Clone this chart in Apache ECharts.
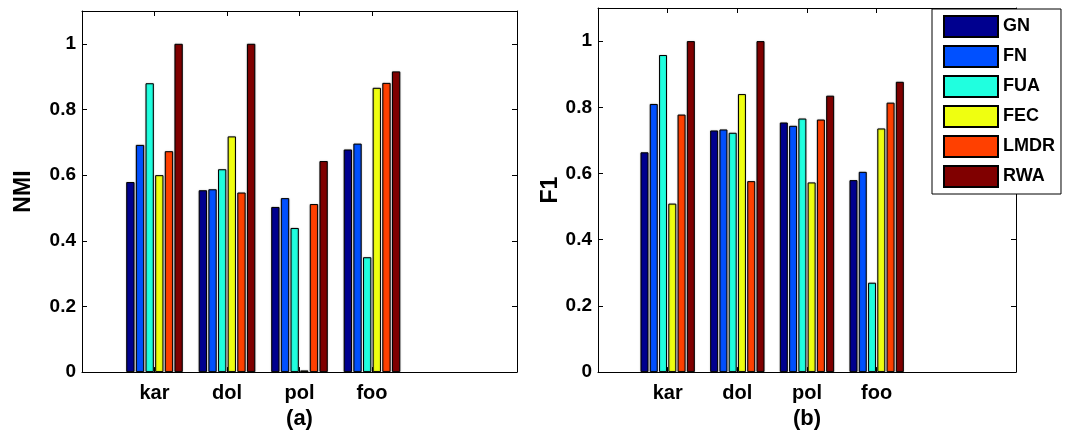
<!DOCTYPE html>
<html lang="en">
<head>
    <meta charset="UTF-8">
    <title>NMI / F1</title>
    <script src="https://cdn.jsdelivr.net/npm/echarts@6/dist/echarts.min.js"></script>
    <style>
        html,body{
            margin: 0;
            padding: 0;
            background: #fff;
        }
    </style>
</head>
<body>
<div id="main" style="width: 1075px;height: 435px"></div>
<script>
    // 数据
    var categories = ['kar', 'dol', 'pol', 'foo'];
    var methods = ['GN', 'FN', 'FUA', 'FEC', 'LMDR', 'RWA'];
    var colors = ['#00008f', '#0050ff', '#20ffdf', '#efff10', '#ff4000', '#800000'];
    var yTicks = [0, 0.2, 0.4, 0.6, 0.8, 1];

    // NMI, one array per method (kar, dol, pol, foo)
    var nmiGN   = [0.579, 0.554, 0.503, 0.678];
    var nmiFN   = [0.692, 0.557, 0.530, 0.696];
    var nmiFUA  = [0.880, 0.618, 0.439, 0.350];
    var nmiFEC  = [0.600, 0.718, 0.005, 0.866];
    var nmiLMDR = [0.673, 0.547, 0.512, 0.881];
    var nmiRWA  = [1.000, 1.000, 0.643, 0.916];

    // F1
    var f1GN   = [0.664, 0.730, 0.754, 0.580];
    var f1FN   = [0.810, 0.733, 0.744, 0.605];
    var f1FUA  = [0.958, 0.723, 0.766, 0.270];
    var f1FEC  = [0.509, 0.840, 0.573, 0.736];
    var f1LMDR = [0.778, 0.577, 0.763, 0.814];
    var f1RWA  = [1.000, 1.000, 0.835, 0.877];

    var nmiData = [nmiGN, nmiFN, nmiFUA, nmiFEC, nmiLMDR, nmiRWA];
    var f1Data = [f1GN, f1FN, f1FUA, f1FEC, f1LMDR, f1RWA];

    var font = 'Liberation Sans, Arial, sans-serif';
    var xPos = categories.map(function (c, i) { return i + 1; });

    function xAxes(grid, name) {
        return [{
            type: 'value', gridIndex: grid, position: 'bottom',
            min: 0, max: 6,
            name: name, nameLocation: 'middle', nameGap: 27,
            nameTextStyle: {color: '#000', fontSize: 22, fontWeight: 'bold', fontFamily: font},
            axisLine: {show: true, onZero: false, lineStyle: {color: '#000', width: 1}},
            axisTick: {show: true, inside: true, length: 5, customValues: xPos, lineStyle: {color: '#000'}},
            axisLabel: {
                customValues: xPos, margin: 11,
                color: '#000', fontSize: 20, fontWeight: 'bold', fontFamily: font,
                formatter: function (v) { return categories[Math.round(v) - 1] || ''; }
            },
            splitLine: {show: false}
        }, {
            type: 'value', gridIndex: grid, position: 'top',
            min: 0, max: 6,
            axisLine: {show: true, onZero: false, lineStyle: {color: '#000', width: 1}},
            axisTick: {show: true, inside: true, length: 5, customValues: xPos, lineStyle: {color: '#000'}},
            axisLabel: {show: false},
            splitLine: {show: false}
        }];
    }

    function yAxes(grid, name, gap) {
        return [{
            type: 'value', gridIndex: grid, position: 'left',
            min: 0, max: 1.1,
            name: name, nameLocation: 'middle', nameGap: gap,
            nameTextStyle: {color: '#000', fontSize: 23, fontWeight: 'bold', fontFamily: font},
            axisLine: {show: true, onZero: false, lineStyle: {color: '#000', width: 1}},
            axisTick: {show: true, inside: true, length: 5, customValues: yTicks, lineStyle: {color: '#000'}},
            axisLabel: {
                customValues: yTicks, margin: 6,
                color: '#000', fontSize: 19, fontWeight: 'bold', fontFamily: font
            },
            splitLine: {show: false}
        }, {
            type: 'value', gridIndex: grid, position: 'right',
            min: 0, max: 1.1,
            axisLine: {show: true, onZero: false, lineStyle: {color: '#000', width: 1}},
            axisTick: {show: true, inside: true, length: 5, customValues: yTicks, lineStyle: {color: '#000'}},
            axisLabel: {show: false},
            splitLine: {show: false}
        }];
    }

    function barSeries(data, xi, yi) {
        return methods.map(function (m, k) {
            return {
                name: m,
                type: 'bar',
                xAxisIndex: xi,
                yAxisIndex: yi,
                barCategoryGap: '22%',
                barGap: '16%',
                itemStyle: {
                    color: colors[k], borderColor: '#000', borderWidth: 1,
                    shadowColor: 'rgba(0,0,0,0.35)', shadowBlur: 1.5
                },
                data: data[k].map(function (v, i) { return [xPos[i], v]; })
            };
        });
    }

    var myChart = echarts.init(document.getElementById('main'));

    var option = {
        animation: false,
        backgroundColor: '#fff',
        grid: [
            {left: 82, top: 11, width: 435, height: 363},
            {left: 598, top: 8, width: 418, height: 365}
        ],
        xAxis: xAxes(0, '(a)').concat(xAxes(1, '(b)')),
        yAxis: yAxes(0, 'NMI', 47).concat(yAxes(1, 'F1', 31)),
        legend: {
            data: methods,
            orient: 'vertical',
            left: 932,
            top: 9,
            itemWidth: 54,
            itemHeight: 21,
            itemGap: 7,
            padding: [6, 6, 6, 11],
            backgroundColor: '#fff',
            borderColor: '#000',
            borderWidth: 1,
            borderRadius: 0,
            icon: 'rect',
            textStyle: {color: '#000', fontSize: 18, lineHeight: 21, fontWeight: 'bold', fontFamily: font}
        },
        series: barSeries(nmiData, 0, 0).concat(barSeries(f1Data, 2, 2))
    };

    myChart.setOption(option);
</script>
</body>
</html>
